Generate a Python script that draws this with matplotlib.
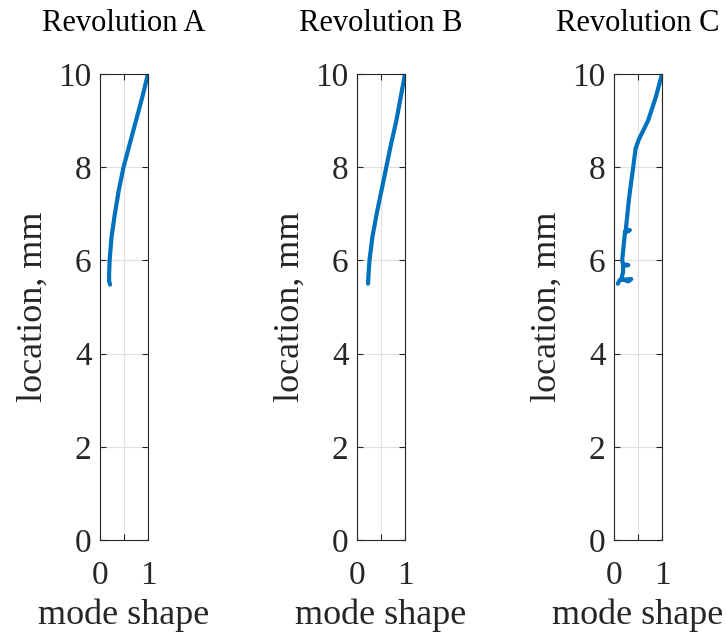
import matplotlib
matplotlib.use('Agg')
import matplotlib.pyplot as plt

# mode shape profiles per revolution (x = normalised amplitude, y = location in mm)
titles = ['Revolution A', 'Revolution B', 'Revolution C']

loc_a = [5.48, 5.55, 5.7, 6.0, 6.5, 7.0, 7.5, 8.0, 8.5, 9.0, 9.5, 10.0]
shape_a = [0.21, 0.19, 0.19, 0.20, 0.24, 0.31, 0.39, 0.49, 0.62, 0.75, 0.88, 1.0]

loc_b = [5.5, 5.7, 6.0, 6.5, 7.0, 7.5, 8.0, 8.5, 9.0, 9.5, 10.0]
shape_b = [0.23, 0.24, 0.26, 0.32, 0.41, 0.51, 0.61, 0.71, 0.82, 0.91, 1.0]

loc_c = [5.5, 5.58, 5.6, 5.55, 5.6, 5.75, 5.88, 5.9, 5.92, 6.0, 6.3, 6.62, 6.65, 6.6,
         7.0, 7.3, 7.7, 8.0, 8.4, 8.6, 9.0, 9.5, 10.0]
shape_c = [0.08, 0.12, 0.36, 0.30, 0.15, 0.19, 0.19, 0.30, 0.19, 0.17, 0.20, 0.23, 0.33, 0.24,
           0.28, 0.31, 0.36, 0.40, 0.45, 0.52, 0.71, 0.87, 1.0]

profiles = [(shape_a, loc_a), (shape_b, loc_b), (shape_c, loc_c)]

plt.rcParams['font.family'] = ['Liberation Serif', 'DejaVu Serif']

fig = plt.figure(figsize=(7.26, 6.36), dpi=100)
lefts = [100 / 726, 357 / 726, 614 / 726]

for left, title, (xs, ys) in zip(lefts, titles, profiles):
    ax = fig.add_axes([left, 96 / 636, 48 / 726, 466 / 636])
    ax.plot(xs, ys, color='#0072BD', lw=3.0, solid_capstyle='round',
            solid_joinstyle='round')
    ax.set_xlim(0, 1)
    ax.set_ylim(0, 10)
    ax.set_xticks([0, 0.5, 1])
    ax.set_xticklabels(['0', '', '1'])
    ax.set_yticks(range(0, 11, 2))
    ax.grid(True, color='#DFDFDF', lw=0.8)
    ax.set_axisbelow(True)
    ax.tick_params(direction='in', top=True, right=True, length=4, width=0.8,
                   color='#262626', labelsize=24, labelcolor='#262626')
    ax.tick_params(axis='x', pad=15)
    ax.tick_params(axis='y', pad=6)
    for s in ax.spines.values():
        s.set_color('#262626')
        s.set_linewidth(0.8)
    ax.set_xlabel('mode shape', fontsize=26, color='#262626', labelpad=5)
    ax.set_ylabel('location, mm', fontsize=26, color='#262626', labelpad=6)
    ax.set_title(title, fontsize=22, pad=31)

fig.savefig('out.png', dpi=100)
